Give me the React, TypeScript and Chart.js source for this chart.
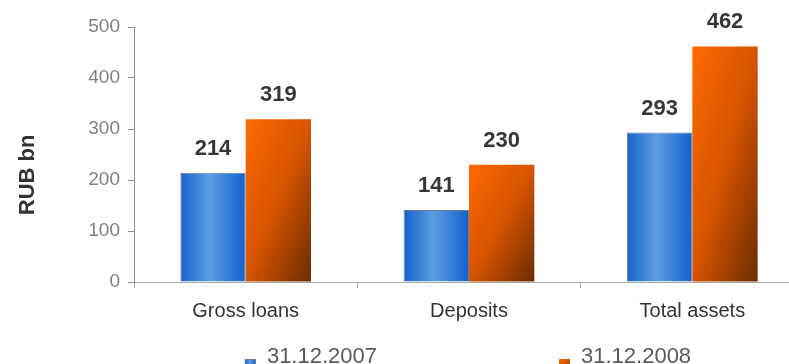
import React, { useEffect, useRef } from "react";
import { Chart, registerables } from "chart.js";

Chart.register(...registerables);

const categories = ["Gross loans", "Deposits", "Total assets"];
const values2007 = [214, 141, 293];
const values2008 = [319, 230, 462];
const seriesLabels = ["31.12.2007", "31.12.2008"];
const yMin = 0;
const yMax = 500;
const yStep = 100;
const yTitle = "RUB bn";

const FONT = "'Liberation Sans', Arial, sans-serif";

function blueGradient(ctx: CanvasRenderingContext2D, x0: number, x1: number) {
  const g = ctx.createLinearGradient(x0, 0, x1, 0);
  g.addColorStop(0, "#1563cc");
  g.addColorStop(0.45, "#5c9ce0");
  g.addColorStop(1, "#1361cf");
  return g;
}

function orangeGradient(ctx: CanvasRenderingContext2D, x: number, top: number, w: number, h: number) {
  const k = (2 * w * h) / (h * h + w * w);
  const g = ctx.createLinearGradient(x, top, x + h * k, top + w * k);
  g.addColorStop(0, "#ff6a00");
  g.addColorStop(0.5, "#d65400");
  g.addColorStop(1, "#6a2c00");
  return g;
}

const gradientPlugin = {
  id: "barGradients",
  beforeDatasetsDraw(chart: any) {
    const ctx = chart.ctx as CanvasRenderingContext2D;
    chart.data.datasets.forEach((_: any, di: number) => {
      const meta = chart.getDatasetMeta(di);
      meta.data.forEach((el: any) => {
        const left = el.x - el.width / 2;
        const right = el.x + el.width / 2;
        const top = Math.min(el.y, el.base);
        const h = Math.abs(el.base - el.y);
        const bg = di === 0 ? blueGradient(ctx, left, right) : orangeGradient(ctx, left, top, el.width, h);
        el.options = Object.assign({}, el.options, { backgroundColor: bg });
      });
    });
  },
};

const labelsPlugin = {
  id: "valueLabels",
  afterDatasetsDraw(chart: any) {
    const ctx = chart.ctx as CanvasRenderingContext2D;
    ctx.save();
    ctx.font = `bold 22px ${FONT}`;
    ctx.fillStyle = "#363636";
    ctx.textAlign = "center";
    ctx.textBaseline = "alphabetic";
    chart.data.datasets.forEach((ds: any, di: number) => {
      const meta = chart.getDatasetMeta(di);
      meta.data.forEach((el: any, i: number) => {
        ctx.fillText(String(ds.data[i]), el.x, el.y - 18);
      });
    });
    ctx.restore();
  },
  afterDraw(chart: any) {
    const ctx = chart.ctx as CanvasRenderingContext2D;
    const area = chart.chartArea;
    // y-axis title
    ctx.save();
    ctx.font = `bold 22px ${FONT}`;
    ctx.fillStyle = "#333333";
    ctx.textAlign = "center";
    ctx.textBaseline = "middle";
    ctx.translate(28, area.top + (area.bottom - area.top) * 0.58);
    ctx.rotate(-Math.PI / 2);
    ctx.fillText(yTitle, 0, 0);
    ctx.restore();

    // legend
    ctx.save();
    ctx.font = `22px ${FONT}`;
    const box = 11;
    const gap = 11;
    const spacing = 182;
    const w1 = ctx.measureText(seriesLabels[0]).width;
    const w2 = ctx.measureText(seriesLabels[1]).width;
    const total = box + gap + w1 + spacing + box + gap + w2;
    const cx = (area.left + area.right) / 2 - 1;
    let x = cx - total / 2;
    const baseY = 363;
    const boxTop = 359;
    ctx.fillStyle = blueGradient(ctx, x, x + box);
    ctx.fillRect(x, boxTop, box, box);
    ctx.strokeStyle = "#6a7d9a";
    ctx.lineWidth = 1;
    ctx.strokeRect(x + 0.5, boxTop + 0.5, box - 1, box - 1);
    ctx.fillStyle = "#5a5a5a";
    ctx.textAlign = "left";
    ctx.textBaseline = "alphabetic";
    ctx.fillText(seriesLabels[0], x + box + gap, baseY);
    x = x + box + gap + w1 + spacing;
    ctx.fillStyle = orangeGradient(ctx, x, boxTop, box, box);
    ctx.fillRect(x, boxTop, box, box);
    ctx.fillStyle = "#5a5a5a";
    ctx.fillText(seriesLabels[1], x + box + gap, baseY);
    ctx.restore();
  },
};

export default function App() {
  const ref = useRef<HTMLCanvasElement | null>(null);

  useEffect(() => {
    document.body.style.margin = "0";
    const canvas = ref.current;
    if (!canvas) return;
    const chart = new Chart(canvas, {
      type: "bar",
      data: {
        labels: categories,
        datasets: [
          {
            label: seriesLabels[0],
            data: values2007,
            backgroundColor: "#3d85d8",
            borderColor: "#6a7d9a",
            borderWidth: 1,
            categoryPercentage: 0.585,
            barPercentage: 1,
          },
          {
            label: seriesLabels[1],
            data: values2008,
            backgroundColor: "#d65400",
            borderWidth: 0,
            categoryPercentage: 0.585,
            barPercentage: 1,
          },
        ],
      },
      options: {
        responsive: false,
        animation: false,
        layout: { padding: { top: 27, left: 0, right: 0, bottom: 0 } },
        plugins: {
          legend: { display: false },
          tooltip: { enabled: false },
        },
        scales: {
          x: {
            offset: true,
            grid: {
              offset: true,
              drawOnChartArea: false,
              drawTicks: true,
              tickLength: 6,
              color: "#a6a6a6",
            },
            border: { color: "#a6a6a6", width: 1 },
            ticks: {
              color: "#333333",
              font: { family: FONT, size: 20 },
              padding: 11,
            },
            afterFit: (s: any) => {
              s.height = 82;
            },
          },
          y: {
            min: yMin,
            max: yMax,
            grid: {
              drawOnChartArea: false,
              drawTicks: true,
              tickLength: 6,
              color: "#8c8c8c",
            },
            border: { color: "#8c8c8c", width: 1 },
            ticks: {
              stepSize: yStep,
              color: "#808080",
              font: { family: FONT, size: 19 },
              padding: 8,
            },
            afterFit: (s: any) => {
              s.width = 134;
            },
          },
        },
      },
      plugins: [gradientPlugin, labelsPlugin],
    } as any);
    return () => chart.destroy();
  }, []);

  return (
    <div style={{ width: 789, height: 364, overflow: "hidden", position: "relative" }}>
      <canvas
        ref={ref}
        width={804}
        height={364}
        style={{ display: "block", width: 804, height: 364 }}
      />
    </div>
  );
}
